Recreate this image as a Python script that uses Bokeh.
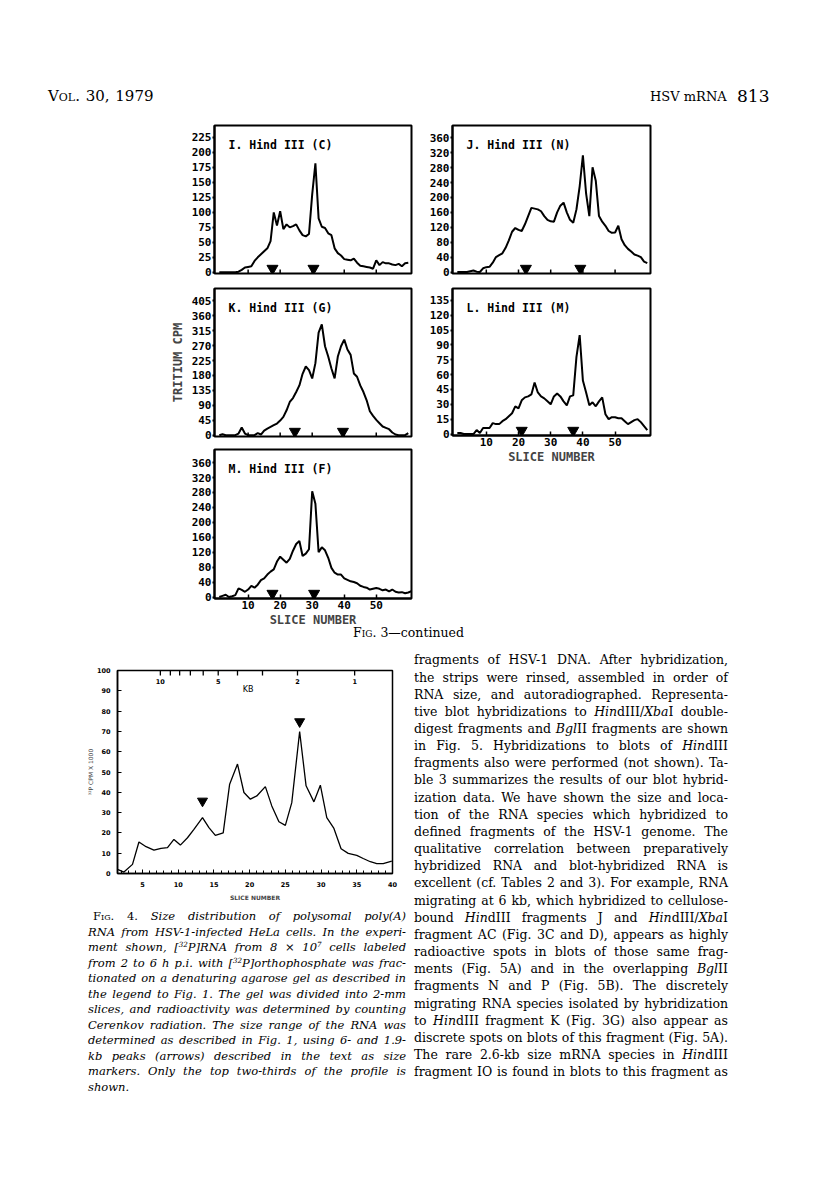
from bokeh.plotting import figure
from bokeh.layouts import column, row
from bokeh.models import Range1d, Div, Spacer, FixedTicker
from bokeh.core.properties import value
from bokeh.embed import file_html
from bokeh.resources import INLINE

# ------------------------------------------------------------------ data
slices = list(range(1, 61))
slices_M = list(range(1, 62))

cpm_I = [0, 0, 0, 0, 0, 0, 1, 4, 8, 9, 10, 19, 25, 30, 35, 40, 52, 100, 78, 102,
         72, 80, 75, 77, 80, 70, 62, 60, 64, 130, 182, 90, 76, 74, 65, 62, 40, 32, 28, 22,
         21, 20, 23, 16, 11, 10, 9, 8, 6, 20, 12, 17, 15, 15, 13, 12, 14, 10, 15, 16]
cpm_J = [0, 0, 0, 0, 2, 4, 1, 0, 10, 13, 14, 25, 40, 45, 50, 65, 85, 108, 118, 113,
         110, 128, 150, 172, 170, 168, 163, 150, 140, 136, 135, 160, 178, 186, 160, 140, 132, 168, 230, 313,
         210, 150, 281, 245, 150, 135, 124, 110, 105, 106, 124, 88, 72, 62, 55, 47, 44, 40, 28, 24]
cpm_K = [0, 3, 0, 0, 0, 0, 5, 23, 5, 0, 0, 0, 6, 2, 14, 20, 25, 30, 35, 44,
         55, 75, 100, 112, 130, 150, 185, 207, 196, 171, 217, 309, 334, 268, 237, 201, 171, 237, 268, 288,
         258, 242, 186, 176, 150, 130, 105, 72, 58, 46, 36, 26, 22, 18, 8, 2, 0, 0, 0, 6]
cpm_L = [1, 1, 0, 0, 0, 0, 4, 1, 6, 6, 6, 11, 10, 10, 13, 15, 18, 21, 28, 26,
         34, 37, 38, 40, 52, 42, 38, 36, 33, 30, 38, 41, 38, 33, 29, 38, 39, 78, 100, 54,
         42, 29, 32, 28, 33, 37, 20, 15, 17, 17, 16, 16, 13, 10, 12, 14, 15, 12, 8, 4]
cpm_M = [0, 3, 6, 0, 2, 5, 23, 19, 14, 20, 30, 25, 33, 45, 50, 60, 68, 74, 95, 108,
         100, 92, 102, 124, 142, 150, 110, 116, 128, 283, 250, 120, 133, 125, 105, 78, 65, 60, 60, 50,
         46, 42, 40, 37, 30, 27, 25, 20, 22, 24, 22, 18, 20, 15, 20, 14, 12, 13, 10, 12, 16]

arrows_I = [17.6, 30.4]
arrows_J = [22.3, 39.2]
arrows_K = [24.6, 39.6]
arrows_L = [21.0, 37.0]
arrows_M = [17.6, 30.6]

ticks_I = [0, 25, 50, 75, 100, 125, 150, 175, 200, 225]
ticks_J = [0, 40, 80, 120, 160, 200, 240, 280, 320, 360]
ticks_K = [0, 45, 90, 135, 180, 225, 270, 315, 360, 405]
ticks_L = [0, 15, 30, 45, 60, 75, 90, 105, 120, 135]
ticks_M = [0, 40, 80, 120, 160, 200, 240, 280, 320, 360]
slice_ticks = [10, 20, 30, 40, 50]

fig4_slice = [1.5, 2.4, 3.6, 4.5, 5.5, 6.6, 7.6, 8.5, 9.4, 10.3, 11.3, 12.2, 13.4, 14.3, 15.2,
              16.3, 17.2, 18.3, 19.2, 20.1, 21.0, 22.2, 23.1, 24.1, 25.0, 25.9, 27.0, 27.9, 29.0,
              29.9, 30.8, 31.8, 32.8, 33.8, 35.0, 35.9, 36.9, 37.8, 38.7, 39.9]
fig4_cpm = [2, 0.7, 4.5, 15.5, 13.2, 11.5, 12.4, 12.7, 16.8, 14, 17.6, 21.7, 27.5, 22.6, 18.8,
            20, 44, 53.9, 39.9, 36.6, 38.2, 42.8, 33.3, 25.5, 23.7, 34.9, 69.9, 43.2, 35.3,
            43.5, 27.5, 22.2, 12.2, 9.9, 8.9, 7.4, 5.8, 4.9, 4.9, 6.1]
fig4_arrow_slice = [13.4, 27.0]
fig4_arrow_cpm = [35.7, 74.8]
kb_tick_value = [10, 9, 8, 7, 6, 5, 4, 3, 2, 1]
kb_tick_slice = [7.5, 8.9, 10.2, 11.7, 13.5, 15.6, 18.3, 21.8, 26.7, 34.7]
kb_labelled = [10, 5, 2, 1]
fig4_x_ticks = [5, 10, 15, 20, 25, 30, 35, 40]
fig4_y_ticks = [0, 10, 20, 30, 40, 50, 60, 70, 80, 90, 100]

MONO = "DejaVu Sans Mono"
SANS = "DejaVu Sans"
SERIF = "DejaVu Serif"


def panel(title, xs, ys, arrows, yticks, y_lo, y_hi, width, height, bl, br, bt, bb,
          xlabels=False, ylabel=None):
    p = figure(width=width, height=height, x_range=Range1d(-0.5, 61), y_range=Range1d(y_lo, y_hi),
               output_backend="svg", toolbar_location=None,
               min_border_left=bl, min_border_right=br, min_border_top=bt, min_border_bottom=bb)
    p.grid.visible = False
    p.outline_line_color = "black"
    p.outline_line_width = 2
    fh = height - bt - bb
    fw = width - bl - br
    span = y_hi - y_lo
    yax = p.yaxis[0]
    yax.ticker = FixedTicker(ticks=yticks)
    yax.major_tick_in = 0
    yax.major_tick_out = 2
    yax.major_tick_line_width = 2
    yax.minor_tick_in = 0
    yax.minor_tick_out = 0
    yax.axis_line_width = 2
    yax.major_label_standoff = 1
    yax.major_label_text_font = MONO
    yax.major_label_text_font_size = "11px"
    yax.major_label_text_font_style = "bold"
    yax.major_label_text_color = "black"
    if ylabel:
        yax.axis_label = ylabel
        yax.axis_label_text_font = MONO
        yax.axis_label_text_font_size = "12px"
        yax.axis_label_text_font_style = "bold"
        yax.axis_label_standoff = 4
    xax = p.xaxis[0]
    if xlabels:
        xax.ticker = FixedTicker(ticks=slice_ticks)
        xax.major_tick_in = 4
        xax.major_tick_out = 0
        xax.major_tick_line_width = 1.5
        xax.minor_tick_in = 0
        xax.minor_tick_out = 0
        xax.axis_line_width = 2
        xax.major_label_text_font = MONO
        xax.major_label_text_font_size = "11px"
        xax.major_label_text_font_style = "bold"
        xax.major_label_text_color = "black"
        xax.major_label_standoff = 2
        xax.axis_label = "SLICE NUMBER"
        xax.axis_label_text_font = MONO
        xax.axis_label_text_font_size = "12px"
        xax.axis_label_text_font_style = "bold"
        xax.axis_label_standoff = 1
    else:
        xax.visible = False
        n = len(slice_ticks)
        p.segment(x0=slice_ticks, y0=[y_lo] * n, x1=slice_ticks, y1=[y_lo + span * 4.0 / fh] * n,
                  line_color="black", line_width=1.5)
    p.line(xs, ys, line_color="black", line_width=2)
    ya = y_lo + span * 5.0 / fh
    p.scatter(arrows, [ya] * len(arrows), marker="inverted_triangle", size=11, color="black")
    p.text(x=[-0.5 + 14 * 61.5 / fw], y=[y_hi - span * 19.0 / fh], text=[title],
           text_font=value(MONO), text_font_size="11.5px", text_font_style="bold",
           text_align="left", text_baseline="middle", text_color="black")
    return p


pI = panel("I. Hind III (C)", slices, cpm_I, arrows_I, ticks_I, -2, 245, 270, 166, 64, 9, 10, 8)
pK = panel("K. Hind III (G)", slices, cpm_K, arrows_K, ticks_K, -4, 442, 270, 161, 64, 9, 7, 6,
           ylabel="TRITIUM CPM")
pM = panel("M. Hind III (F)", slices_M, cpm_M, arrows_M, ticks_M, -4, 395, 270, 188, 64, 9, 7, 32,
           xlabels=True)
pJ = panel("J. Hind III (N)", slices, cpm_J, arrows_J, ticks_J, -4, 393, 240, 166, 32, 10, 10, 8)
pL = panel("L. Hind III (M)", slices, cpm_L, arrows_L, ticks_L, -1.5, 147, 240, 189, 32, 10, 7, 35,
           xlabels=True)

# ------------------------------------------------------------------ Fig. 4
f4 = figure(width=400, height=259, x_range=Range1d(1.5, 40), y_range=Range1d(0, 100),
            output_backend="svg", toolbar_location=None,
            min_border_left=109, min_border_right=16, min_border_top=24, min_border_bottom=32)
f4.grid.visible = False
f4.outline_line_color = "black"
f4.outline_line_width = 1.5
xa = f4.xaxis[0]
xa.ticker = FixedTicker(ticks=fig4_x_ticks, minor_ticks=list(range(2, 41)))
xa.major_tick_in = 4
xa.major_tick_out = 0
xa.minor_tick_in = 3
xa.minor_tick_out = 0
xa.axis_line_width = 1.5
xa.major_label_text_font = SANS
xa.major_label_text_font_size = "6.5px"
xa.major_label_text_font_style = "bold"
xa.major_label_text_color = "black"
xa.major_label_standoff = 8
xa.axis_label = "SLICE NUMBER"
xa.axis_label_text_font = SANS
xa.axis_label_text_font_size = "6px"
xa.axis_label_text_font_style = "bold"
xa.axis_label_standoff = 4
ya = f4.yaxis[0]
ya.ticker = FixedTicker(ticks=fig4_y_ticks)
ya.major_tick_in = 4
ya.major_tick_out = 0
ya.minor_tick_in = 0
ya.minor_tick_out = 0
ya.axis_line_width = 1.5
ya.major_label_text_font = SANS
ya.major_label_text_font_size = "6.5px"
ya.major_label_text_font_style = "bold"
ya.major_label_text_color = "black"
ya.major_label_standoff = 7
ya.axis_label = "³²P CPM X 1000"
ya.axis_label_text_font = SANS
ya.axis_label_text_font_size = "6px"
ya.axis_label_text_font_style = "normal"
ya.axis_label_standoff = 0
nk = len(kb_tick_slice)
f4.segment(x0=kb_tick_slice, y0=[100] * nk, x1=kb_tick_slice, y1=[97.5] * nk,
           line_color="black", line_width=1.3)
f4.line(fig4_slice, fig4_cpm, line_color="black", line_width=1.3)
f4.scatter(fig4_arrow_slice, fig4_arrow_cpm, marker="inverted_triangle", size=10, color="black")
f4.text(x=[kb_tick_slice[kb_tick_value.index(k)] for k in kb_labelled], y=[94.6] * len(kb_labelled),
        text=[str(k) for k in kb_labelled], text_font=value(SANS), text_font_size="6.5px",
        text_font_style="bold", text_align="center", text_baseline="middle", text_color="black")
f4.text(x=[19.8], y=[90.4], text=["KB"], text_font=value(SANS), text_font_size="8px",
        text_align="center", text_baseline="middle", text_color="black")

# ------------------------------------------------------------------ text blocks
right_lines = [
    "fragments of HSV-1 DNA. After hybridization,",
    "the strips were rinsed, assembled in order of",
    "RNA size, and autoradiographed. Representa-",
    "tive blot hybridizations to <i>Hin</i>dIII/<i>Xba</i>I double-",
    "digest fragments and <i>Bgl</i>II fragments are shown",
    "in Fig. 5. Hybridizations to blots of <i>Hin</i>dIII",
    "fragments also were performed (not shown). Ta-",
    "ble 3 summarizes the results of our blot hybrid-",
    "ization data. We have shown the size and loca-",
    "tion of the RNA species which hybridized to",
    "defined fragments of the HSV-1 genome. The",
    "qualitative correlation between preparatively",
    "hybridized RNA and blot-hybridized RNA is",
    "excellent (cf. Tables 2 and 3). For example, RNA",
    "migrating at 6 kb, which hybridized to cellulose-",
    "bound <i>Hin</i>dIII fragments J and <i>Hin</i>dIII/<i>Xba</i>I",
    "fragment AC (Fig. 3C and D), appears as highly",
    "radioactive spots in blots of those same frag-",
    "ments (Fig. 5A) and in the overlapping <i>Bgl</i>II",
    "fragments N and P (Fig. 5B). The discretely",
    "migrating RNA species isolated by hybridization",
    "to <i>Hin</i>dIII fragment K (Fig. 3G) also appear as",
    "discrete spots on blots of this fragment (Fig. 5A).",
    "The rare 2.6-kb size mRNA species in <i>Hin</i>dIII",
    "fragment IO is found in blots to this fragment as",
]

SUP = '<sup style="font-size:0.62em;line-height:0;vertical-align:0.55em;">{}</sup>'
caption_lines = [
    '<span style="font-style:normal;font-variant:small-caps;">Fig.</span>'
    '<span style="font-style:normal;"> 4.</span> Size distribution of polysomal poly(A)',
    "RNA from HSV-1-infected HeLa cells. In the experi-",
    "ment shown, [" + SUP.format("32") + "P]RNA from 8 × 10" + SUP.format("7") + " cells labeled",
    "from 2 to 6 h p.i. with [" + SUP.format("32") + "P]orthophosphate was frac-",
    "tionated on a denaturing agarose gel as described in",
    "the legend to Fig. 1. The gel was divided into 2-mm",
    "slices, and radioactivity was determined by counting",
    "Cerenkov radiation. The size range of the RNA was",
    "determined as described in Fig. 1, using 6- and 1.9-",
    "kb peaks (arrows) described in the text as size",
    "markers. Only the top two-thirds of the profile is",
    "shown.",
]


def block(lines, left, top, width, lh, fs, italic=False, last_left=False, indent0=0):
    st = "font-style:italic;" if italic else ""
    parts = [f'<div style="position:absolute;left:{left}px;top:{top}px;'
             f"font-family:'{SERIF}';font-size:{fs}px;color:#000;{st}\">"]
    for i, t in enumerate(lines):
        ind = indent0 if i == 0 else 0
        last = "left" if (last_left and i == len(lines) - 1) else "justify"
        parts.append(f'<div style="margin-left:{ind}px;width:{width - ind}px;height:{lh}px;'
                     f'line-height:{lh}px;white-space:nowrap;text-align:justify;'
                     f'text-align-last:{last};">{t}</div>')
    parts.append("</div>")
    return "".join(parts)


def box(w, h, inner):
    return f'<div style="position:relative;width:{w}px;height:{h}px;overflow:visible;">{inner}</div>'


header_html = box(800, 107,
                  f"<div style=\"position:absolute;left:40px;top:81px;font-family:'{SERIF}';font-size:15px;"
                  f"line-height:15px;white-space:nowrap;word-spacing:1px;\"><span style=\"font-variant:small-caps;\">Vol.</span> 30, 1979</div>"
                  f"<div style=\"position:absolute;left:642px;top:82px;font-family:'{SERIF}';font-size:13px;"
                  f"line-height:13px;white-space:nowrap;\">HSV mRNA</div>"
                  f"<div style=\"position:absolute;left:729px;top:80px;font-family:'{SERIF}';font-size:17px;"
                  f"line-height:17px;white-space:nowrap;\">813</div>")
header = Div(text=header_html, width=800, height=107, margin=(0, 0, 0, 0))

fig3cap = Div(text=box(800, 16,
                       f"<div style=\"position:absolute;left:345px;top:-4px;font-family:'{SERIF}';font-size:12.5px;"
                       f"line-height:13px;white-space:nowrap;\"><span style=\"font-variant:small-caps;\">Fig.</span> 3—continued</div>"),
              width=800, height=16, margin=(0, 0, 0, 0))

cap4 = Div(text=box(400, 281, block(caption_lines, 80, 4.25, 318, 15.5, 11.5, italic=True,
                                    last_left=True, indent0=5)),
           width=400, height=281, margin=(0, 0, 0, 0))
right_text = Div(text=box(400, 540, block(right_lines, 6, 5.4, 314, 17.17, 12.5)),
                 width=400, height=540, margin=(0, 0, 0, 0))

panels = row(Spacer(width=142, height=515), column(pI, pK, pM, spacing=0), column(pJ, pL, spacing=0),
             spacing=0)
bottom = row(column(f4, cap4, spacing=0), right_text, spacing=0)
inner = column(header, panels, fig3cap, bottom, spacing=0)
page = column(Spacer(width=808, height=8), row(Spacer(width=8, height=1178), inner, spacing=0), spacing=0)

open("out.html", "w").write(file_html(page, INLINE))
